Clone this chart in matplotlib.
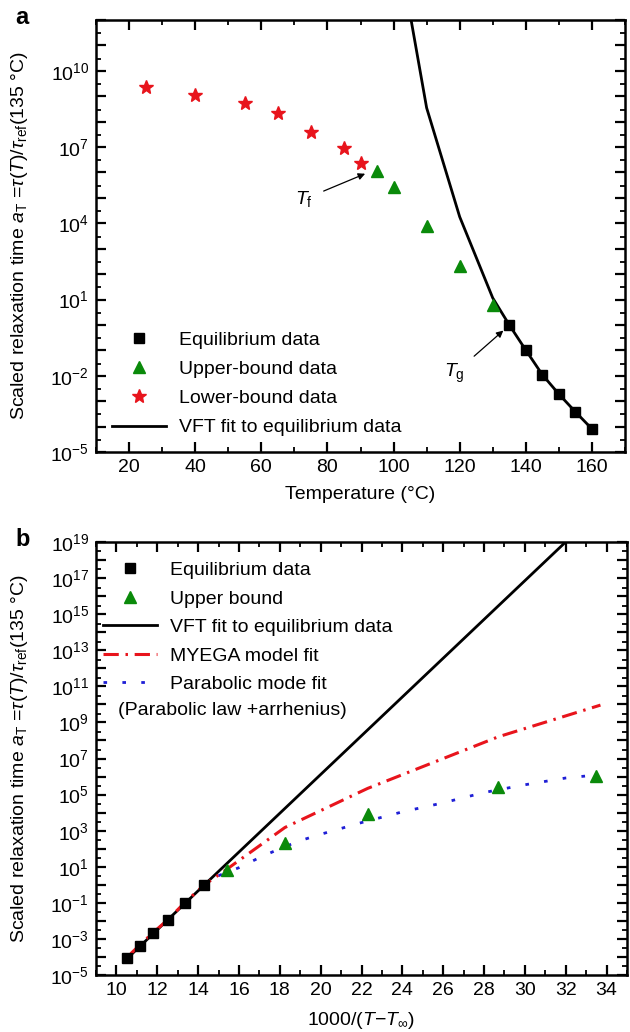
import math
import matplotlib
matplotlib.use('Agg')
import matplotlib.pyplot as plt
from matplotlib.ticker import LogLocator, MultipleLocator, FuncFormatter, NullFormatter
from matplotlib.lines import Line2D

plt.rcParams['font.family'] = ['Liberation Sans', 'DejaVu Sans']
plt.rcParams['mathtext.fontset'] = 'custom'
plt.rcParams['mathtext.rm'] = 'Liberation Sans'
plt.rcParams['mathtext.it'] = 'Liberation Sans:italic'
plt.rcParams['mathtext.bf'] = 'Liberation Sans:bold'
plt.rcParams['mathtext.sf'] = 'Liberation Sans'

# ---------------- Panel a data ----------------
a_eq_T = [135, 140, 145, 150, 155, 160]
a_eq_y = [1.0, 0.102, 1.1e-2, 1.9e-3, 3.8e-4, 8.1e-5]
a_up_T = [95, 100, 110, 120, 130]
a_up_y = [1.15e6, 2.6e5, 8.0e3, 200, 6.2]
a_low_T = [25, 40, 55, 65, 75, 85, 90]
a_low_y = [2.3e9, 1.1e9, 5.6e8, 2.2e8, 3.8e7, 8.9e6, 2.4e6]
a_vft_T = [100, 110, 120, 130, 135, 140, 145, 150, 155, 160]
a_vft_y = [8e15, 3.5e8, 1.8e4, 11.5, 1.0, 0.102, 1.1e-2, 1.9e-3, 3.8e-4, 8.1e-5]

# ---------------- Panel b data ----------------
b_eq_x = [10.54, 11.13, 11.79, 12.53, 13.37, 14.31]
b_eq_y = [8.5e-5, 4.1e-4, 2.0e-3, 1.1e-2, 0.102, 1.0]
b_up_x = [15.42, 18.25, 22.3, 28.7, 33.5]
b_up_y = [6.2, 200, 8.0e3, 2.6e5, 1.1e6]
b_vft_x = [10.54, 14.31, 33.0]
b_vft_y = [8.5e-5, 1.0, 1.2e20]
b_myega_x = [10.7, 11.13, 11.79, 12.53, 13.37, 14.31, 15.42, 18.25, 22.3, 28.7, 33.7]
b_myega_y = [1.5e-4, 4.5e-4, 2.2e-3, 1.2e-2, 0.11, 1.0, 7.5, 1.5e3, 2.2e5, 1.6e8, 9.1e9]
b_par_x = [15.0, 16.0, 17.0, 18.0, 19.0, 20.0, 22.0, 24.0, 26.0, 28.0, 30.0, 32.0, 33.6]
b_par_y = [3.2, 8.9, 32, 100, 2.8e2, 6.3e2, 2.8e3, 1.1e4, 3.5e4, 1.3e5, 3.5e5, 8.3e5, 1.25e6]

FS = 14
RED = '#e8141c'
GREEN = '#0a8a0a'
BLUE = '#1f1fd6'

W, H = 630, 1032
fig = plt.figure(figsize=(W / 100, H / 100), dpi=100)

def frac_axes(l, t, r, b):
    return fig.add_axes([l / W, 1 - b / H, (r - l) / W, (b - t) / H])

axa = frac_axes(96, 20, 625, 452)
axb = frac_axes(96, 542, 627, 975)

def style(ax, labelled):
    ax.set_yscale('log')
    for s in ax.spines.values():
        s.set_linewidth(1.8)
    ax.yaxis.set_major_locator(LogLocator(base=10, numticks=60))
    ax.yaxis.set_major_formatter(FuncFormatter(
        lambda v, p: (r'$10^{%d}$' % round(math.log10(v)))
        if round(math.log10(v)) in labelled else ''))
    ax.yaxis.set_minor_locator(LogLocator(base=10, subs=(3.0,), numticks=60))
    ax.yaxis.set_minor_formatter(NullFormatter())
    ax.tick_params(which='both', direction='in', top=True, right=True, labelsize=FS)
    ax.tick_params(which='major', length=7.5, width=1.6, pad=5)
    ax.tick_params(which='minor', length=3.5, width=1.3)

# ---------------- Panel a ----------------
style(axa, {-5, -2, 1, 4, 7, 10})
axa.plot(a_vft_T, a_vft_y, '-', color='black', lw=2.0, zorder=2)
axa.plot(a_eq_T, a_eq_y, 's', color='black', ms=6.5, zorder=3)
axa.plot(a_up_T, a_up_y, '^', color=GREEN, ms=9, zorder=3)
axa.plot(a_low_T, a_low_y, '*', color=RED, ms=10, zorder=3)
axa.set_xlim(10, 170)
axa.set_ylim(1e-5, 1e12)
axa.xaxis.set_minor_locator(MultipleLocator(10))
axa.set_xticks([20, 40, 60, 80, 100, 120, 140, 160])
axa.set_xlabel('Temperature (°C)', fontsize=FS, labelpad=7)
ylab = r'Scaled relaxation time $a_{\mathrm{T}}$ =$\tau$($T$)/$\tau_{\mathrm{ref}}$(135 °C)'
axa.set_ylabel(ylab, fontsize=FS)
axa.yaxis.set_label_coords(-0.125, 0.5)

ha = [Line2D([], [], ls='none', marker='s', color='black', ms=6.5),
      Line2D([], [], ls='none', marker='^', color=GREEN, ms=9),
      Line2D([], [], ls='none', marker='*', color=RED, ms=10),
      Line2D([], [], ls='-', color='black', lw=2.0)]
la = ['Equilibrium data', 'Upper-bound data', 'Lower-bound data', 'VFT fit to equilibrium data']
axa.legend(ha, la, loc='upper left', bbox_to_anchor=(0.03, 0.28), frameon=False,
           fontsize=FS, handlelength=2.8, handletextpad=0.65, labelspacing=0.6,
           borderpad=0, borderaxespad=0)

axa.annotate(r'$T_{\mathrm{f}}$', xy=(91.4, 10**5.95), xytext=(73, 10**4.95),
             fontsize=FS, ha='center', va='center',
             arrowprops=dict(arrowstyle='-|>', color='black', lw=0.9,
                             mutation_scale=10, shrinkA=6, shrinkB=0))
axa.annotate(r'$T_{\mathrm{g}}$', xy=(133.2, 10**-0.22), xytext=(118.5, 10**-1.9),
             fontsize=FS, ha='center', va='center',
             arrowprops=dict(arrowstyle='-|>', color='black', lw=0.9,
                             mutation_scale=10, shrinkA=6, shrinkB=0))

# ---------------- Panel b ----------------
style(axb, {-5, -3, -1, 1, 3, 5, 7, 9, 11, 13, 15, 17, 19})
axb.plot(b_vft_x, b_vft_y, '-', color='black', lw=2.0, zorder=2)
axb.plot(b_myega_x, b_myega_y, color=RED, lw=2.2, dashes=(5.0, 2.2, 0.8, 2.2), zorder=2)
axb.plot(b_par_x, b_par_y, color=BLUE, lw=2.0, dashes=(1.3, 5.5), zorder=2)
axb.plot(b_eq_x, b_eq_y, 's', color='black', ms=6.5, zorder=3)
axb.plot(b_up_x, b_up_y, '^', color=GREEN, ms=9, zorder=3)
axb.set_xlim(9, 35)
axb.set_ylim(1e-5, 1e19)
axb.set_xticks(list(range(10, 35, 2)))
axb.xaxis.set_minor_locator(MultipleLocator(1))
axb.set_xlabel(r'1000/($T$−$T_{\infty}$)', fontsize=FS, labelpad=8)
axb.set_ylabel(ylab, fontsize=FS)
axb.yaxis.set_label_coords(-0.125, 0.5)

hb = [Line2D([], [], ls='none', marker='s', color='black', ms=6.5),
      Line2D([], [], ls='none', marker='^', color=GREEN, ms=9),
      Line2D([], [], ls='-', color='black', lw=2.0),
      Line2D([], [], color=RED, lw=2.2, dashes=(5.0, 2.2, 0.8, 2.2)),
      Line2D([], [], color=BLUE, lw=2.0, dashes=(1.3, 5.5))]
lb = ['Equilibrium data', 'Upper bound', 'VFT fit to equilibrium data',
      'MYEGA model fit', 'Parabolic mode fit']
axb.legend(hb, lb, loc='upper left', bbox_to_anchor=(0.013, 0.955), frameon=False,
           fontsize=FS, handlelength=2.8, handletextpad=0.65, labelspacing=0.56,
           borderpad=0, borderaxespad=0)
axb.text(0.041, 0.611, '(Parabolic law +arrhenius)', transform=axb.transAxes,
         fontsize=FS, ha='left', va='center')

fig.text(15 / W, 1 - 18 / H, 'a', fontsize=17, fontweight='bold', ha='left', va='center')
fig.text(15 / W, 1 - 540 / H, 'b', fontsize=17, fontweight='bold', ha='left', va='center')

fig.savefig('out.png', dpi=100)
